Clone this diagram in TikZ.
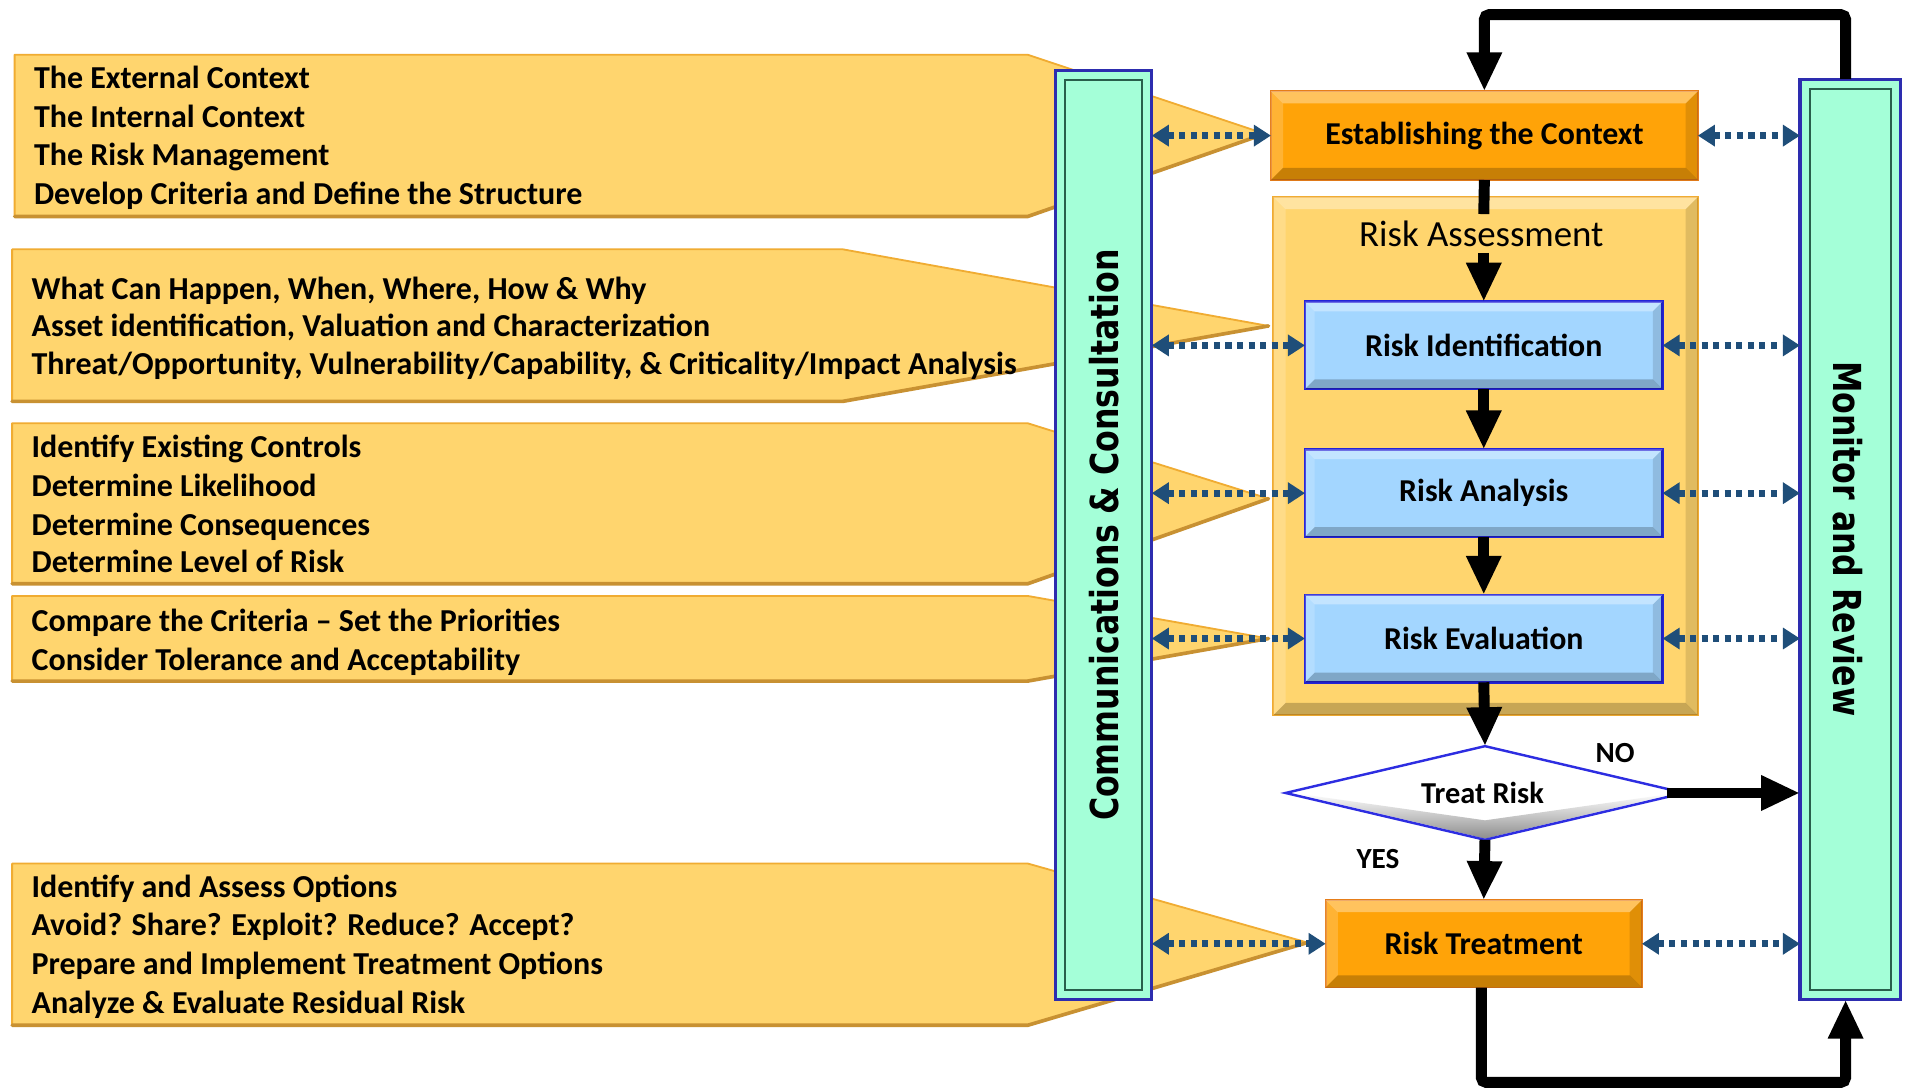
\documentclass[tikz,border=0pt]{standalone}
\usepackage{fontspec}
\setmainfont{Carlito}
\newfontfamily\barfont{DejaVu Sans}
\usetikzlibrary{arrows.meta,shapes.geometric,calc}
\definecolor{callfill}{RGB}{255,213,110}
\definecolor{callline}{RGB}{240,172,50}
\definecolor{calldark}{RGB}{200,145,50}
\definecolor{tealfill}{RGB}{164,255,216}
\definecolor{barline}{RGB}{45,45,175}
\definecolor{barinner}{RGB}{40,95,75}
\definecolor{orfill}{RGB}{255,163,8}
\definecolor{orline}{RGB}{230,125,25}
\definecolor{bluefill}{RGB}{163,214,255}
\definecolor{blueline}{RGB}{35,35,215}
\definecolor{dotcol}{RGB}{31,78,121}
\definecolor{diamline}{RGB}{45,45,225}
\newcommand\mybevel[2]{%
  \fill[white,opacity=0.35] (#1.north west) -- (#1.north east) -- ($(#1.north east)+(-#2,#2)$) -- ($(#1.north west)+(#2,#2)$) -- cycle;
  \fill[white,opacity=0.18] (#1.north west) -- ($(#1.north west)+(#2,#2)$) -- ($(#1.south west)+(#2,-#2)$) -- (#1.south west) -- cycle;
  \fill[black,opacity=0.22] (#1.south west) -- (#1.south east) -- ($(#1.south east)+(-#2,-#2)$) -- ($(#1.south west)+(#2,-#2)$) -- cycle;
  \fill[black,opacity=0.12] (#1.north east) -- ($(#1.north east)+(-#2,#2)$) -- ($(#1.south east)+(-#2,-#2)$) -- (#1.south east) -- cycle;
}
\begin{document}
\begin{tikzpicture}[x=1pt,y=-1pt,
  every node/.style={inner sep=0pt, outer sep=0pt},
  ctext/.style={font=\fontsize{26.3}{31.5}\selectfont\bfseries, anchor=base west},
  callout/.style={fill=callfill, draw=callline, line width=1.5pt, line join=round},
  calledge/.style={draw=calldark, line width=3pt, line cap=round},
  bar/.style={rectangle, fill=tealfill, draw=barline, line width=2.5pt},
  bartext/.style={font=\barfont\bfseries\fontsize{26}{26}\selectfont},
  boxtext/.style={font=\fontsize{26.2}{30}\selectfont\bfseries},
  orbox/.style={rectangle, fill=orfill, draw=orline, line width=1.5pt, boxtext},
  bluebox/.style={rectangle, fill=bluefill, draw=blueline, line width=2pt, minimum width=294pt, minimum height=72pt, boxtext},
  flow/.style={line width=9pt, -{Triangle[width=27pt,length=32pt]}},
  flowline/.style={line width=9pt},
  dots/.style={dotcol, line width=5.5pt, dash pattern=on 5pt off 4.5pt, {Triangle[width=17pt,length=14pt]}-{Triangle[width=17pt,length=14pt]}},
  lbl/.style={font=\fontsize{24}{24}\selectfont\bfseries}
]
\useasboundingbox (0,0) rectangle (1568,895);
\fill[white] (0,0) rectangle (1568,895);

% ---- callouts ----
\path[callout] (12,45) -- (845,45) -- (1040,110) -- (845,178) -- (12,178) -- cycle;
\draw[calledge] (12,178) -- (845,178) -- (1040,110);
\path[callout] (10,205) -- (693,205) -- (1043,268) -- (693,330) -- (10,330) -- cycle;
\draw[calledge] (10,330) -- (693,330) -- (1043,268);
\path[callout] (10,348) -- (845,348) -- (1043,410) -- (845,480) -- (10,480) -- cycle;
\draw[calledge] (10,480) -- (845,480) -- (1043,410);
\path[callout] (10,490) -- (845,490) -- (1043,525) -- (845,560) -- (10,560) -- cycle;
\draw[calledge] (10,560) -- (845,560) -- (1043,525);
\path[callout] (10,710) -- (845,710) -- (1075,775) -- (845,843) -- (10,843) -- cycle;
\draw[calledge] (10,843) -- (845,843) -- (1075,775);

\node[ctext] (c1a) at (28,73) {The External Context};
\node[ctext] (c1b) at (28,105) {The Internal Context};
\node[ctext] (c1c) at (28,136) {The Risk Management};
\node[ctext] (c1d) at (28,168) {Develop Criteria and Define the Structure};

\node[ctext] (c2a) at (26,246) {What Can Happen, When, Where, How \& Why};
\node[ctext] (c2b) at (26,277) {Asset identification, Valuation and Characterization};
\node[ctext] (c2c) at (26,308) {Threat/Opportunity, Vulnerability/Capability, \& Criticality/Impact Analysis};

\node[ctext] (c3a) at (26,376) {Identify Existing Controls};
\node[ctext] (c3b) at (26,408) {Determine Likelihood};
\node[ctext] (c3c) at (26,440) {Determine Consequences};
\node[ctext] (c3d) at (26,471) {Determine Level of Risk};

\node[ctext] (c4a) at (26,519) {Compare the Criteria -- Set the Priorities};
\node[ctext] (c4b) at (26,551) {Consider Tolerance and Acceptability};

\node[ctext] (c5a) at (26,738) {Identify and Assess Options};
\node[ctext] (c5b) at (26,769) {Avoid? Share? Exploit? Reduce? Accept?};
\node[ctext] (c5c) at (26,801) {Prepare and Implement Treatment Options};
\node[ctext] (c5d) at (26,833) {Analyze \& Evaluate Residual Risk};

% ---- side bars ----
\node[bar, minimum width=79pt, minimum height=764pt] (comm) at (907.5,440) {};
\draw[barinner, line width=1.5pt] ($(comm.north west)+(8,8)$) rectangle ($(comm.south east)+(-8,-8)$);
\node[bartext, rotate=90] (commtxt) at (908,440) {\scalebox{1}[1.22]{Communications \& Consultation}};

\node[bar, minimum width=83pt, minimum height=757pt] (mon) at (1521.5,443.5) {};
\draw[barinner, line width=1.5pt] ($(mon.north west)+(8,8)$) rectangle ($(mon.south east)+(-8,-8)$);
\node[bartext, rotate=-90] (montxt) at (1519,443) {\scalebox{1}[1.22]{Monitor and Review}};

% ---- main flow boxes ----
\node[orbox, minimum width=351pt, minimum height=73pt] (est) at (1220.5,111.5) {Establishing the Context};
\mybevel{est}{10}

\node[rectangle, fill=callfill, draw=callline, line width=1.5pt, minimum width=349pt, minimum height=426pt] (ra) at (1221.5,375) {};
\mybevel{ra}{10}
\node[font=\fontsize{30.3}{30}\selectfont] (ratitle) at (1218,192) {Risk Assessment};

\node[bluebox] (rid) at (1220,284) {Risk Identification};
\mybevel{rid}{8}
\node[bluebox] (ran) at (1220,405.5) {Risk Analysis};
\mybevel{ran}{8}
\node[bluebox] (rev) at (1220,525) {Risk Evaluation};
\mybevel{rev}{8}

\node[diamond, shape aspect=4.26, fill=white, minimum width=328pt, minimum height=77pt] (treat) at (1221,652) {};
\shade[top color=white, bottom color=black!45] ($(treat.west)+(6,0)$) -- ($(treat.south)+(0,-1)$) -- ($(treat.east)+(-6,0)$) -- ($(treat.south)+(0,-16)$) -- cycle;
\draw[diamline, line width=2pt] (treat.north) -- (treat.east) -- (treat.south) -- (treat.west) -- cycle;
\node[font=\fontsize{25}{28}\selectfont\bfseries] (treattxt) at (1219,652) {Treat Risk};

\node[orbox, minimum width=260pt, minimum height=72pt] (rtr) at (1220,776) {Risk Treatment};
\mybevel{rtr}{10}

\node[lbl] (no) at (1328,619) {NO};
\node[lbl] (yes) at (1133,706) {YES};

% ---- black flow connectors ----
\draw[flowline] (est.south) -- (1220,176);
\draw[flow] (1220,208) -- (rid.north);
\draw[flow] (rid.south) -- (ran.north);
\draw[flow] (ran.south) -- (rev.north);
\draw[flow] (rev.south) -- (treat.north);
\draw[flow] (treat.south) -- (rtr.north);
\draw[flow] ($(treat.east)+(-14,0)$) -- (mon.west |- treat.east);
\coordinate (montop) at ($(mon.north)+(-4,0)$);
\coordinate (monbot) at ($(mon.south)+(-4,0)$);
\draw[flow, rounded corners=4pt] (montop) -- ++(0,-53) -| (est.north);
\draw[flow, rounded corners=4pt] ($(rtr.south)+(-2,0)$) -- ++(0,78) -| (monbot);

% ---- dotted consultation / monitoring connectors ----
\draw[dots] (comm.east |- est.west) -- (est.west);
\draw[dots] (est.east) -- (mon.west |- est.east);
\draw[dots] (comm.east |- rid.west) -- (rid.west);
\draw[dots] (rid.east) -- (mon.west |- rid.east);
\draw[dots] (comm.east |- ran.west) -- (ran.west);
\draw[dots] (ran.east) -- (mon.west |- ran.east);
\draw[dots] (comm.east |- rev.west) -- (rev.west);
\draw[dots] (rev.east) -- (mon.west |- rev.east);
\draw[dots] (comm.east |- rtr.west) -- (rtr.west);
\draw[dots] (rtr.east) -- (mon.west |- rtr.east);
\end{tikzpicture}
\end{document}
